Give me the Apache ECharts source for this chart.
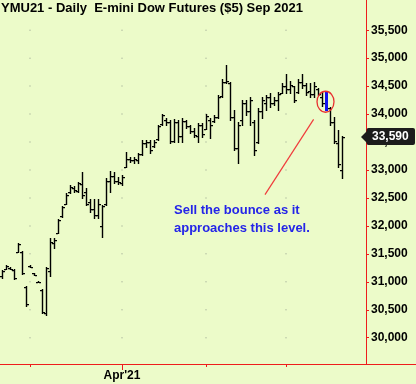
<!DOCTYPE html>
<html><head><meta charset="utf-8">
<script src="https://cdn.jsdelivr.net/npm/echarts@6/dist/echarts.min.js"></script>
<style>html,body{margin:0;padding:0;background:#ecfbc9;}#c{width:416px;height:384px;}</style>
</head><body><div id="c"></div>
<script>
const titleText = 'YMU21 - Daily  E-mini Dow Futures ($5) Sep 2021';
const noteLines = ['Sell the bounce as it', 'approaches this level.'];
const dates = [
 '2021-02-18','2021-02-19','2021-02-22','2021-02-23','2021-02-24','2021-02-25','2021-02-26',
 '2021-03-01','2021-03-02','2021-03-03','2021-03-04','2021-03-05','2021-03-08','2021-03-09','2021-03-10','2021-03-11','2021-03-12',
 '2021-03-15','2021-03-16','2021-03-17','2021-03-18','2021-03-19','2021-03-22','2021-03-23','2021-03-24','2021-03-25','2021-03-26',
 '2021-03-29','2021-03-30','2021-03-31',
 '2021-04-01','2021-04-05','2021-04-06','2021-04-07','2021-04-08','2021-04-09','2021-04-12','2021-04-13','2021-04-14','2021-04-15','2021-04-16',
 '2021-04-19','2021-04-20','2021-04-21','2021-04-22','2021-04-23','2021-04-26','2021-04-27','2021-04-28','2021-04-29','2021-04-30',
 '2021-05-03','2021-05-04','2021-05-05','2021-05-06','2021-05-07','2021-05-10','2021-05-11','2021-05-12','2021-05-13','2021-05-14',
 '2021-05-17','2021-05-18','2021-05-19','2021-05-20','2021-05-21','2021-05-24','2021-05-25','2021-05-26','2021-05-27','2021-05-28',
 '2021-06-01','2021-06-02','2021-06-03','2021-06-04','2021-06-07','2021-06-08','2021-06-09','2021-06-10','2021-06-11',
 '2021-06-14','2021-06-15','2021-06-16','2021-06-17','2021-06-18','2021-06-21'
];
const opens = [31100,31230,31250,31210,31540,31530,30900,31290,31150,31005,30850,30450,31200,31700,31880,32170,32400,32600,32680,32620,
 32750,32600,32420,32300,32200,32000,32400,32800,32900,32800,32760,33060,33200,33170,33180,33280,33480,33500,33420,33550,
 33820,33900,33850,33520,33850,33600,33870,33780,33700,33600,33800,33740,33900,33870,33950,34320,34580,34550,33950,33400,
 33900,34200,34050,33850,33500,34050,34200,34300,34200,34250,34380,34500,34450,34500,34400,34580,34520,34420,34350,34450,
 34300,34350,34100,33850,33480,33000];
const highs = [31205,31295,31260,31225,31690,31545,30920,31295,31155,31010,30865,31260,31780,31780,32120,32350,32580,32725,32705,32780,
 32960,32670,32475,32475,32475,32370,32850,32975,32960,32870,32905,33315,33225,33225,33300,33545,33545,33545,33530,33800,
 34010,33925,33890,33905,33890,33925,33890,33800,33745,33835,33835,33995,33925,33975,34335,34620,34885,34565,34065,33850,
 34245,34245,34300,33890,34100,34300,34335,34370,34300,34390,34550,34725,34600,34510,34635,34710,34550,34550,34565,34460,
 34390,34390,34135,33940,33710,33600];
const lows = [31060,31225,31225,31045,31530,31135,30565,31260,31115,30990,30440,30400,31100,31600,31865,32155,32385,32580,32600,32600,
 32495,32370,32245,32135,32135,31795,32370,32600,32760,32745,32725,33045,33135,33120,33120,33260,33405,33300,33405,33530,
 33800,33800,33475,33495,33495,33495,33745,33670,33585,33495,33585,33725,33565,33850,33925,34300,34550,33890,33350,33120,
 33800,33975,33800,33260,33475,33925,34065,34120,34155,34065,34370,34370,34370,34210,34370,34475,34335,34300,34300,34335,
 34150,34050,33800,33475,33045,32850];
const closes = [31190,31280,31230,31060,31680,31150,30600,31270,31120,30995,30460,31240,31720,31740,32100,32330,32560,32700,32640,32760,
 32550,32400,32300,32200,32400,32350,32800,32900,32800,32780,32880,33200,33180,33190,33280,33480,33500,33350,33500,33780,
 33980,33850,33520,33850,33600,33880,33780,33700,33620,33800,33640,33960,33800,33950,34300,34580,34600,33950,33400,33800,
 34200,34050,34250,33350,34050,34250,34300,34200,34250,34350,34500,34450,34520,34250,34580,34520,34400,34350,34500,34360,
 34200,34100,33850,33520,33100,33590];
const yTicks = [30000,30500,31000,31500,32000,32500,33000,33500,34000,34500,35000,35500];
const highlightIdx = 81;
const lastPrice = 33590;
const lineFrom = [65.75, 32560];
const lineTo = [77.9, 33905];

const RED = '#ee1c1c';
const FONT = "'Liberation Sans', Arial, sans-serif";

const monthStarts = [];
dates.forEach((d, i) => { if (i > 0 && d.slice(5, 7) !== dates[i - 1].slice(5, 7)) monthStarts.push(i); });
const aprIdx = dates.indexOf('2021-04-01');
const monthNames = ['Jan','Feb','Mar','Apr','May','Jun','Jul','Aug','Sep','Oct','Nov','Dec'];
const fmtMonth = i => monthNames[+dates[i].slice(5, 7) - 1] + "'" + dates[i].slice(2, 4);

const ohlc = dates.map((d, i) => [i, opens[i], highs[i], lows[i], closes[i]]);
const dots = [];
monthStarts.forEach(m => yTicks.forEach(v => dots.push([m, v])));

function renderOHLC(params, api) {
  const i = api.value(0);
  const pO = api.coord([i, api.value(1)]);
  const pH = api.coord([i, api.value(2)]);
  const pL = api.coord([i, api.value(3)]);
  const pC = api.coord([i, api.value(4)]);
  const x = Math.round(pH[0]);
  const yH = Math.round(pH[1]), yL = Math.round(pL[1]);
  if (i === highlightIdx) {
    return {type: 'rect', shape: {x: x - 1, y: yH, width: 3, height: Math.max(1, yL - yH)}, style: {fill: '#1212ee'}};
  }
  return {type: 'group', children: [
    {type: 'rect', shape: {x: x - 0.2, y: yH, width: 1.4, height: Math.max(1, yL - yH + 1)}, style: {fill: '#000'}},
    {type: 'rect', shape: {x: x - 2, y: Math.round(pO[1]), width: 2, height: 1.2}, style: {fill: '#000'}},
    {type: 'rect', shape: {x: x + 1, y: Math.round(pC[1]), width: 2, height: 1.2}, style: {fill: '#000'}}
  ]};
}

function renderNote(params, api) {
  const h = highs[highlightIdx], l = lows[highlightIdx];
  const c = api.coord([highlightIdx, (h + l) / 2]);
  const a = api.coord(lineFrom), b = api.coord(lineTo);
  return {type: 'group', children: [
    {type: 'ellipse', shape: {cx: c[0] - 0.5, cy: c[1], rx: 8.5, ry: 10.5}, style: {fill: 'none', stroke: '#e83030', lineWidth: 1.3}},
    {type: 'line', shape: {x1: a[0], y1: a[1], x2: b[0], y2: b[1]}, style: {stroke: '#f03c3c', lineWidth: 1.2}}
  ]};
}

function renderTag(params, api) {
  const p = api.coord([api.value(0), api.value(1)]);
  const axisX = params.coordSys.x + params.coordSys.width - 50;
  const y = Math.round(p[1]);
  return {type: 'group', children: [
    {type: 'polygon', shape: {points: [[axisX - 5, y], [axisX + 1, y - 6], [axisX + 1, y + 6]]}, style: {fill: '#1c1c1c'}},
    {type: 'rect', shape: {x: axisX + 0.5, y: y - 9, width: 416 - axisX - 1.5, height: 17, r: 2}, style: {fill: '#1c1c1c'}},
    {type: 'text', x: axisX + 6, y: y, style: {text: lastPrice.toLocaleString('en-US'), fill: '#ffffff', font: 'bold 12px ' + FONT, verticalAlign: 'middle', align: 'left'}}
  ]};
}

const chart = echarts.init(document.getElementById('c'), null, {renderer: 'canvas'});
chart.setOption({
  animation: false,
  backgroundColor: '#ecfbc9',
  title: {text: titleText, left: 1, top: 2, padding: 0,
    textStyle: {fontFamily: FONT, fontWeight: 'bold', fontSize: 13, color: '#000'}},
  graphic: [{type: 'text', left: 174, top: 201, style: {text: noteLines.join('\n'), fill: '#2424e8', font: 'bold 13px ' + FONT, lineHeight: 18}}],
  grid: {left: 0, right: 0, top: 0, bottom: 20},
  xAxis: [
    {type: 'value', min: -0.5, max: 103.5, splitLine: {show: false},
      axisLine: {onZero: false, lineStyle: {color: RED, width: 1}},
      axisTick: {customValues: monthStarts, length: 3, lineStyle: {color: RED}},
      axisLabel: {show: false}},
    {type: 'value', min: -0.5, max: 103.5, position: 'bottom', splitLine: {show: false},
      axisLine: {show: false, onZero: false},
      axisTick: {customValues: [aprIdx], length: 6, lineStyle: {color: RED}},
      axisLabel: {customValues: [aprIdx], margin: 6, formatter: v => fmtMonth(Math.round(v)),
        fontFamily: FONT, fontWeight: 'bold', fontSize: 12, color: '#000'}}
  ],
  yAxis: {type: 'value', position: 'right', offset: -50, min: 29530, max: 36040, splitLine: {show: false},
    axisLine: {show: true, onZero: false, lineStyle: {color: RED, width: 1}},
    axisTick: {show: true, customValues: yTicks, length: 3, lineStyle: {color: RED}},
    axisLabel: {customValues: yTicks, margin: 5, formatter: v => v.toLocaleString('en-US'),
      fontFamily: FONT, fontWeight: 'bold', fontSize: 12, color: '#000'}},
  series: [
    {type: 'scatter', data: dots, symbolSize: 1.5, itemStyle: {color: '#a8b29a'}, silent: true, z: 1},
    {type: 'custom', data: ohlc, renderItem: renderOHLC, encode: {x: 0, y: [1, 2, 3, 4]}, z: 3},
    {type: 'custom', data: [[highlightIdx, lastPrice]], renderItem: renderNote, z: 4},
    {type: 'custom', data: [[dates.length - 1, lastPrice]], renderItem: renderTag, z: 5}
  ]
});
</script>
</body></html>
